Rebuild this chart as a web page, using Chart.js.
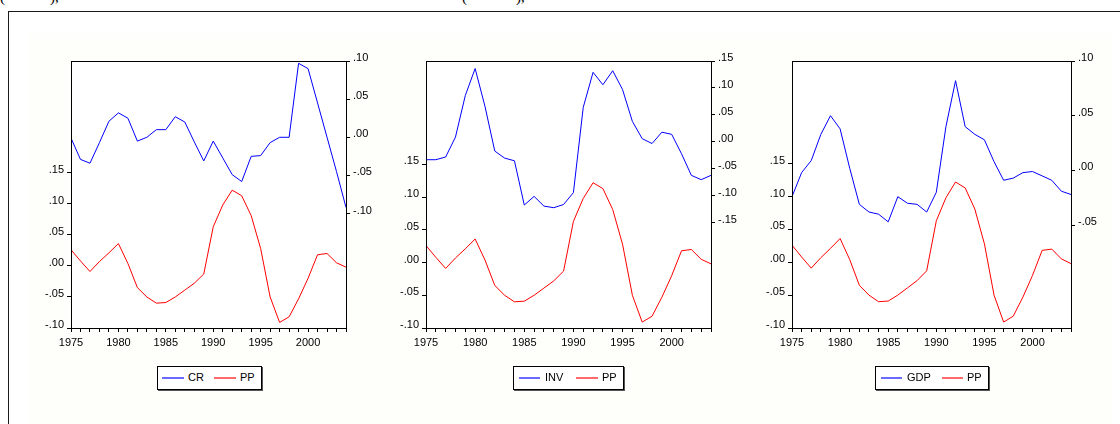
<!DOCTYPE html>
<html>
<head>
<meta charset="utf-8">
<script src="https://cdn.jsdelivr.net/npm/chart.js@4.4.1/dist/chart.umd.min.js"></script>
<style>
html,body{margin:0;padding:0;background:#ffffff;}
body{width:1120px;height:424px;position:relative;overflow:hidden;font-family:"Liberation Sans",Arial,sans-serif;}
#frameTop{position:absolute;left:8px;top:11px;width:1112px;height:1px;background:#1a1a1a;}
#frameLeft{position:absolute;left:8px;top:11px;width:1px;height:413px;background:#1a1a1a;}
#bg{position:absolute;left:30px;top:33px;width:1082px;height:391px;background:#fefefa;}
.frag{position:absolute;top:-11px;font-family:"Liberation Serif","DejaVu Serif",serif;font-size:15px;color:#000;line-height:17px;}
canvas{position:absolute;}
.legend{position:absolute;border:1px solid #000;box-shadow:1px 1px 0 #555;background:#ffffff;height:22px;font-size:11px;color:#000;}
.legend .ln{position:absolute;top:10px;height:2px;}
.legend .tx{position:absolute;top:4px;line-height:13px;white-space:nowrap;}
</style>
</head>
<body>
<div id="bg"></div>
<div id="frameTop"></div>
<div id="frameLeft"></div>
<div class="frag" style="left:0px;">(</div>
<div class="frag" style="left:50px;">),</div>
<div class="frag" style="left:462px;">(</div>
<div class="frag" style="left:516px;">),</div>
<canvas id="c1"></canvas>
<canvas id="c2"></canvas>
<canvas id="c3"></canvas>
<script>
// ---------------- data ----------------
const YEARS = [1975,1976,1977,1978,1979,1980,1981,1982,1983,1984,1985,1986,1987,1988,1989,
               1990,1991,1992,1993,1994,1995,1996,1997,1998,1999,2000,2001,2002,2003,2004];
const YEAR_LABELS = [1975,1980,1985,1990,1995,2000];

const PP  = [0.026,0.008,-0.009,0.007,0.021,0.036,0.004,-0.035,-0.050,-0.060,-0.059,-0.050,-0.039,-0.028,-0.013,
             0.063,0.098,0.122,0.113,0.081,0.028,-0.050,-0.091,-0.082,-0.053,-0.020,0.018,0.020,0.005,-0.002];
const CR  = [-0.001,-0.029,-0.034,-0.007,0.021,0.032,0.025,-0.005,0.000,0.010,0.010,0.027,0.020,-0.006,-0.031,
             -0.005,-0.027,-0.049,-0.058,-0.025,-0.024,-0.007,0.000,0.000,0.097,0.090,0.045,0.000,-0.045,-0.092];
const INV = [-0.033,-0.033,-0.028,0.009,0.086,0.136,0.066,-0.017,-0.030,-0.035,-0.117,-0.101,-0.119,-0.122,-0.116,
             -0.094,0.064,0.129,0.106,0.132,0.097,0.038,0.006,-0.003,0.018,0.014,-0.022,-0.062,-0.070,-0.062];
const GDP = [-0.024,-0.002,0.009,0.033,0.050,0.038,0.002,-0.031,-0.038,-0.040,-0.047,-0.024,-0.030,-0.031,-0.038,
             -0.020,0.040,0.082,0.040,0.033,0.028,0.008,-0.009,-0.007,-0.002,-0.001,-0.005,-0.009,-0.019,-0.022];

const PP_TICKS  = [-0.10,-0.05,0.00,0.05,0.10,0.15];
const CR_TICKS  = [-0.10,-0.05,0.00,0.05,0.10];
const INV_TICKS = [-0.15,-0.10,-0.05,0.00,0.05,0.10,0.15];
const GDP_TICKS = [-0.05,0.00,0.05,0.10];

// ---------------- layout ----------------
const PANELS = [
  {id:'c1', name:'CR',  values:CR,  ticks:CR_TICKS,  rMin:-0.25,  rMax:0.10, lMax:0.33,
   area:{l:71, r:346, t:61, b:328},
   legend:{x:157, y:366, w:103, blue:[5,27], txt1:31, red:[57,79], txt2:83}},
  {id:'c2', name:'INV', values:INV, ticks:INV_TICKS, rMin:-0.345, rMax:0.15, lMax:0.308,
   area:{l:426, r:711, t:61, b:328},
   legend:{x:513, y:366, w:109, blue:[6,27], txt1:32, red:[63,85], txt2:89}},
  {id:'c3', name:'GDP', values:GDP, ticks:GDP_TICKS, rMin:-0.144, rMax:0.10, lMax:0.306,
   area:{l:792, r:1071, t:61, b:328},
   legend:{x:875, y:366, w:112, blue:[6,27], txt1:32, red:[67,88], txt2:92}}
];
const LEFT_W = 41, RIGHT_W = 44, TOP_PAD = 21, BOTTOM_H = 32;
const FONT = {family:'"Liberation Sans", Arial, sans-serif', size:11};

function fmt(v){
  const a = Math.abs(v).toFixed(2).replace(/^0/, '');
  return (v < -1e-9 ? '-' : '') + a;
}

const boxPlugin = {
  id:'boxPlugin',
  beforeDraw(chart){
    const a = chart.chartArea, ctx = chart.ctx;
    ctx.save();
    ctx.fillStyle = '#ffffff';
    ctx.fillRect(a.left, a.top, a.right - a.left, a.bottom - a.top);
    ctx.restore();
  },
  afterDraw(chart){
    const a = chart.chartArea, ctx = chart.ctx;
    ctx.save();
    ctx.strokeStyle = '#000';
    ctx.lineWidth = 1;
    ctx.strokeRect(a.left + 0.5, a.top + 0.5, a.right - a.left, a.bottom - a.top);
    ctx.restore();
  }
};

PANELS.forEach(p => {
  const cv = document.getElementById(p.id);
  const W = p.area.r - p.area.l + LEFT_W + RIGHT_W;
  const H = p.area.b - p.area.t + TOP_PAD + BOTTOM_H;
  cv.width = W; cv.height = H;
  cv.style.width = W + 'px'; cv.style.height = H + 'px';
  cv.style.left = (p.area.l - LEFT_W) + 'px';
  cv.style.top = (p.area.t - TOP_PAD) + 'px';

  new Chart(cv, {
    type:'line',
    data:{
      datasets:[
        {label:p.name, data:YEARS.map((y,i)=>({x:y, y:p.values[i]})), yAxisID:'yR',
         borderColor:'#0000ff', borderWidth:1, pointRadius:0, tension:0, fill:false},
        {label:'PP', data:YEARS.map((y,i)=>({x:y, y:PP[i]})), yAxisID:'yL',
         borderColor:'#ff0000', borderWidth:1, pointRadius:0, tension:0, fill:false}
      ]
    },
    options:{
      responsive:false, animation:false, events:[],
      layout:{padding:{top:TOP_PAD, left:0, right:0, bottom:0}},
      plugins:{legend:{display:false}, tooltip:{enabled:false}},
      scales:{
        x:{type:'linear', min:1975, max:2004, offset:false,
           afterBuildTicks:s=>{ s.ticks = YEARS.map(v=>({value:v})); },
           afterFit:s=>{ s.height = BOTTOM_H; },
           ticks:{autoSkip:false, maxRotation:0, minRotation:0, padding:4, color:'#000', font:FONT,
                  callback:v=>YEAR_LABELS.includes(v) ? String(v) : ''},
           grid:{drawOnChartArea:false, drawTicks:true, tickLength:4, color:'#000'},
           border:{display:true, color:'#000'}},
        yL:{type:'linear', position:'left', min:-0.10, max:p.lMax,
           afterBuildTicks:s=>{ s.ticks = PP_TICKS.map(v=>({value:v})); },
           afterFit:s=>{ s.width = LEFT_W; },
           ticks:{padding:3, color:'#000', font:FONT, labelOffset:-3, callback:v=>fmt(v)},
           grid:{drawOnChartArea:false, drawTicks:true, tickLength:4, color:'#000'},
           border:{display:true, color:'#000'}},
        yR:{type:'linear', position:'right', min:p.rMin, max:p.rMax,
           afterBuildTicks:s=>{ s.ticks = p.ticks.map(v=>({value:v})); },
           afterFit:s=>{ s.width = RIGHT_W; },
           ticks:{padding:3, color:'#000', font:FONT, labelOffset:-3, callback:v=>fmt(v)},
           grid:{drawOnChartArea:false, drawTicks:true, tickLength:4, color:'#000'},
           border:{display:true, color:'#000'}}
      }
    },
    plugins:[boxPlugin]
  });

  // legend
  const L = p.legend;
  const lg = document.createElement('div');
  lg.className = 'legend';
  lg.style.left = L.x + 'px'; lg.style.top = L.y + 'px'; lg.style.width = L.w + 'px';
  const items = [
    {cls:'ln', left:L.blue[0], width:L.blue[1]-L.blue[0], color:'#6a6aff'},
    {cls:'tx', left:L.txt1, text:p.name},
    {cls:'ln', left:L.red[0], width:L.red[1]-L.red[0], color:'#ff6a6a'},
    {cls:'tx', left:L.txt2, text:'PP'}
  ];
  items.forEach(it => {
    const d = document.createElement('div');
    d.className = it.cls;
    d.style.left = (it.left - 1) + 'px';
    if (it.cls === 'ln') { d.style.width = it.width + 'px'; d.style.background = it.color; }
    else d.textContent = it.text;
    lg.appendChild(d);
  });
  document.body.appendChild(lg);
});
</script>
</body>
</html>
